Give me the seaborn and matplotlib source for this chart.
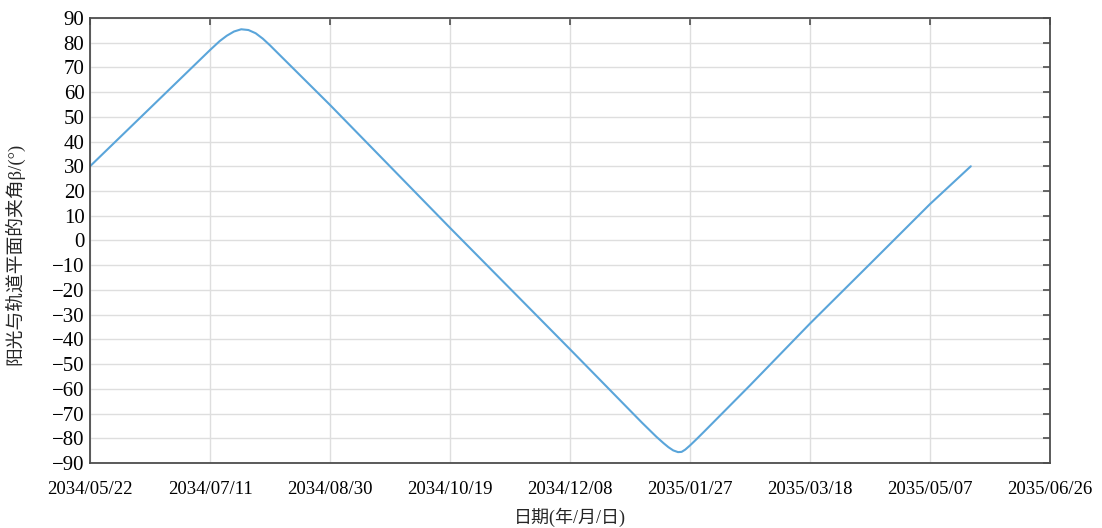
#!/usr/bin/env python3
"""
Sun beta angle vs orbit plane over one year
"""

import pandas as pd
import numpy as np
import matplotlib.pyplot as plt
import matplotlib.dates as mdates
import seaborn as sns

# Data: days after 2034/05/22 and beta angle (deg)
start_date = "2034-05-22"
day_offsets = [0, 25, 50, 54, 57, 60, 63, 66, 69, 72, 75, 78, 100, 150, 200,
               230, 236, 239, 241, 243, 245, 246.5, 248, 250, 253, 256, 275,
               300, 325, 350, 367]
beta_values = [30, 53.5, 77, 80.6, 82.8, 84.5, 85.4, 85.1, 83.8, 81.6, 78.9, 76.0, 54.8, 5.1, -44,
               -73.7, -79.4, -82.0, -83.6, -84.9, -85.6, -85.5, -84.6, -82.9, -80.1, -77.2, -58.6,
               -33.6, -9.5, 14.7, 30]
tick_dates = pd.date_range(start_date, periods=9, freq="50D")
y_ticks = list(range(-90, 91, 10))

df = pd.DataFrame({
    "date": pd.Timestamp(start_date) + pd.to_timedelta(day_offsets, unit="D"),
    "beta": beta_values,
})

sns.set_style("white")
plt.rcParams["font.family"] = ["Liberation Serif", "Noto Sans CJK SC", "DejaVu Sans"]
plt.rcParams["axes.unicode_minus"] = True

fig = plt.figure(figsize=(11.02, 5.28), dpi=100)
ax = fig.add_axes([0.0817, 0.1231, 0.8711, 0.843])

sns.lineplot(data=df, x="date", y="beta", ax=ax, color="#5aa5da", linewidth=1.5)

ax.set_xlim(tick_dates[0], tick_dates[-1])
ax.set_ylim(-90, 90)
ax.set_xticks(tick_dates)
ax.xaxis.set_major_formatter(mdates.DateFormatter("%Y/%m/%d"))
ax.set_yticks(y_ticks)

ax.grid(True, color="#dedede", linewidth=1.0)
ax.set_axisbelow(True)
for side in ax.spines.values():
    side.set_color("#4d4d4d")
    side.set_linewidth(1.3)
ax.tick_params(direction="in", length=5, width=1.2, color="#4d4d4d",
               top=True, right=True, labelcolor="black")
ax.tick_params(axis="x", labelsize=13.5, pad=13)
ax.tick_params(axis="y", labelsize=15, pad=4)

ax.set_xlabel("日期(年/月/日)", fontsize=13, labelpad=7)
ax.set_ylabel("阳光与轨道平面的夹角β/(°)", fontsize=13.5, labelpad=12)
ax.yaxis.set_label_coords(-0.068, 0.47)

plt.savefig("out.png", dpi=100)
plt.close()
